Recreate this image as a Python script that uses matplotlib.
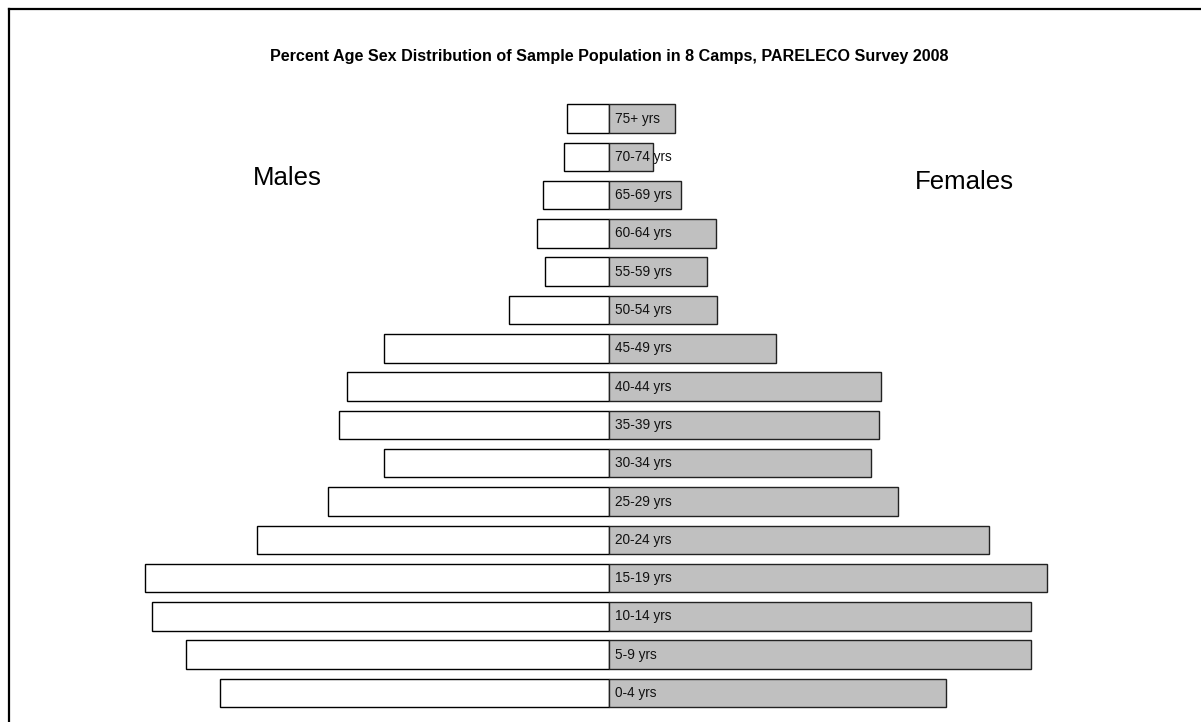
import matplotlib.pyplot as plt
from matplotlib.lines import Line2D

plt.rcParams['font.family'] = ['Liberation Sans', 'DejaVu Sans']

age_groups = ['0-4 yrs', '5-9 yrs', '10-14 yrs', '15-19 yrs', '20-24 yrs',
              '25-29 yrs', '30-34 yrs', '35-39 yrs', '40-44 yrs', '45-49 yrs',
              '50-54 yrs', '55-59 yrs', '60-64 yrs', '65-69 yrs', '70-74 yrs',
              '75+ yrs']
# percent of sample population
males = [5.2, 5.65, 6.1, 6.2, 4.7, 3.75, 3.0, 3.6, 3.5, 3.0,
         1.33, 0.85, 0.96, 0.88, 0.6, 0.56]
females = [4.5, 5.63, 5.63, 5.85, 5.08, 3.86, 3.5, 3.6, 3.63, 2.23,
           1.44, 1.31, 1.43, 0.96, 0.59, 0.88]

W, H = 1201, 722
fig = plt.figure(figsize=(W / 100, H / 100), dpi=100)
ax = fig.add_axes([0, 0, 1, 1])
ax.axis('off')

px_per_pct = 74.9
x0 = 609  # pixel position of the centre line
row = 38.3
y0 = 693  # pixel centre of first row (from top)
ax.set_xlim(-x0 / px_per_pct, (W - x0) / px_per_pct)
ax.set_ylim(-(H - y0) / row, y0 / row)

ypos = list(range(len(age_groups)))
bh = 0.745
ax.barh(ypos, [-m for m in males], height=bh, color='white',
        edgecolor='black', linewidth=1.0)
ax.barh(ypos, females, height=bh, color='#c0c0c0',
        edgecolor='#222222', linewidth=1.0)

for y, lab in zip(ypos, age_groups):
    ax.text(6 / px_per_pct, y, lab, ha='left', va='center', fontsize=9.8,
            color='#111111')

fig.text(609 / W, 1 - 57 / H,
         'Percent Age Sex Distribution of Sample Population in 8 Camps, '
         'PARELECO Survey 2008',
         ha='center', va='center', fontsize=11.6, fontweight='bold')
fig.text(287 / W, 1 - 178 / H, 'Males', ha='center', va='center',
         fontsize=18.5)
fig.text(964 / W, 1 - 182 / H, 'Females', ha='center', va='center',
         fontsize=18.5)

# outer frame (only left and top edges fall inside the image)
fx = 8.5 / W
fy = 1 - 8.5 / H
fig.add_artist(Line2D([fx, fx], [-0.05, fy], transform=fig.transFigure,
                      color='black', lw=1.6))
fig.add_artist(Line2D([fx, 1.05], [fy, fy], transform=fig.transFigure,
                      color='black', lw=1.6))

fig.savefig('out.png', dpi=100)
